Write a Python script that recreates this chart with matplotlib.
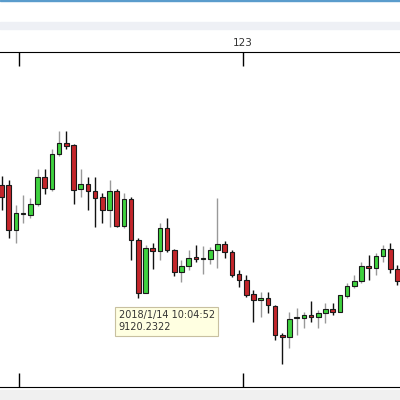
import numpy as np
import matplotlib.pyplot as plt
from matplotlib.patches import Rectangle

# 价格数据
opens = [9815, 9815, 9770, 9786, 9785, 9796, 9823, 9811, 9846, 9857,
         9855, 9811, 9816, 9809, 9803, 9790, 9809, 9774, 9801, 9760,
         9707, 9752, 9749, 9772, 9750, 9728, 9734, 9742, 9741, 9741,
         9750, 9756, 9748, 9726, 9720, 9706, 9700, 9702, 9694, 9665,
         9663, 9682, 9682, 9685, 9683, 9687, 9691, 9688, 9704, 9714,
         9719, 9734, 9732, 9744, 9751, 9731]
closes = [9803, 9770, 9787, 9786, 9796, 9823, 9812, 9846, 9857, 9854,
          9810, 9816, 9809, 9802, 9790, 9809, 9774, 9801, 9760, 9707,
          9752, 9749, 9772, 9750, 9728, 9734, 9742, 9741.5, 9741, 9750,
          9756, 9748, 9725, 9720, 9705, 9700, 9702, 9695, 9665, 9663,
          9681, 9682, 9685, 9683, 9687, 9691, 9688, 9705, 9714, 9719,
          9734, 9732, 9744, 9751, 9731, 9719]
highs = [9824, 9820, 9795, 9805, 9802, 9831, 9831, 9851, 9869, 9869,
         9856, 9831, 9823, 9823, 9807, 9820, 9811, 9807, 9803, 9762,
         9755, 9757, 9777, 9782, 9751, 9740, 9750, 9755, 9754, 9753,
         9802, 9759, 9750, 9730, 9725, 9710, 9708, 9708, 9695, 9667,
         9688, 9692, 9688, 9699, 9690, 9697, 9697, 9705, 9717, 9725,
         9738, 9745, 9747, 9755, 9757, 9735]
lows = [9790, 9762, 9757, 9777, 9782, 9794, 9806, 9809, 9844, 9851,
        9796, 9803, 9790, 9773, 9777, 9773, 9773, 9772, 9740, 9702,
        9707, 9731, 9740, 9748, 9724, 9718, 9730, 9738, 9726, 9736,
        9732, 9742, 9723, 9713, 9703, 9678, 9683, 9687, 9660, 9636,
        9652, 9665, 9672, 9678, 9672, 9677, 9685, 9688, 9702, 9712,
        9717, 9720, 9725, 9738, 9727, 9715]
tip_time = "2018/1/14 10:04:52"
tip_value = "9120.2322"

fig = plt.figure(figsize=(4, 4), dpi=100)
fig.patch.set_facecolor('white')

# 顶部和底部的窗口条
fig.add_artist(Rectangle((0, 0.9975), 1, 0.0025, transform=fig.transFigure, color='#5a9ccc'))
fig.add_artist(Rectangle((0, 0.928), 1, 0.017, transform=fig.transFigure, color='#eef0f5'))
fig.add_artist(Rectangle((0, 0), 1, 0.025, transform=fig.transFigure, color='#f0f0f0'))

ax = fig.add_axes([0, 0.0325, 1, 0.8375])
n = len(opens)
x = np.arange(n)
for i in range(n):
    o, c, h, l = opens[i], closes[i], highs[i], lows[i]
    up = c >= o
    wick = '#999999' if up else '#111111'
    ax.vlines(x[i], l, h, color=wick, lw=1, zorder=1)
    face = '#3fd23f' if up else '#c4262b'
    ax.bar(x[i], max(abs(c - o), 1.5), bottom=min(o, c), width=0.65,
           color=face, edgecolor='#1a1a1a', lw=0.8, zorder=2)

ax.set_xlim(-0.21, 55.35)
ax.set_ylim(9613, 9948)
for s in ['left', 'right']:
    ax.spines[s].set_visible(False)
ax.set_yticks([])
ticks = [2.43, 33.55]
ax.set_xticks(ticks)
ax.set_xticklabels(['', ''])
ax.tick_params(axis='x', direction='in', length=10, top=True, bottom=True, width=1)
ax.text(33.55, 9952, '123', ha='center', va='bottom', fontsize=7.5, color='#333333')

fig.text(0.297, 0.197, tip_time + "\n" + tip_value, fontsize=7, color='#333333',
         linespacing=1.3, va='center', ha='left',
         bbox=dict(boxstyle='square,pad=0.35', fc='#ffffe1', ec='#c8c0a0', lw=0.8))

fig.savefig('out.png', dpi=100)
